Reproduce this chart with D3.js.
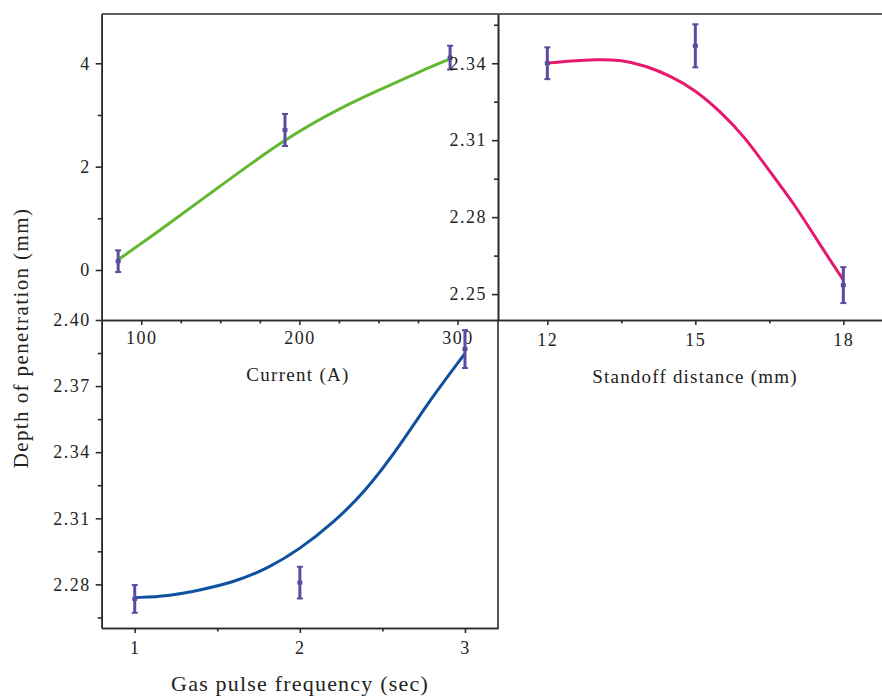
<!DOCTYPE html>
<html>
<head>
<meta charset="utf-8">
<script src="https://cdn.jsdelivr.net/npm/d3@7"></script>
<style>
  body { margin: 0; background: #fff; }
  text { font-family: "Liberation Serif", "Times New Roman", serif; fill: #222; }
  .tick text { font-size: 18px; letter-spacing: 1.5px; }
  .domain, .tick line { stroke: #2b2b2b; stroke-width: 1.6; }
</style>
</head>
<body>
<svg id="chart" width="882" height="698"></svg>
<script>
// ---- current (A) panel ----
var currentX = [85, 112, 140, 191, 226, 251, 276, 295];
var currentFit = [0.19, 0.77, 1.40, 2.55, 3.14, 3.49, 3.84, 4.08];
var currentPts = [85.4, 190.9, 295.3];
var currentMean = [0.17, 2.71, 4.11];
var currentErr = [0.21, 0.31, 0.23];
var currentXTicks = [100, 200, 300];
var currentXMinor = [125, 150, 175, 225, 250, 275];
var currentYTicks = [0, 2, 4];
var currentYMinor = [1, 3];

// ---- standoff distance panel ----
var standoffX = [12, 12.5, 13, 13.5, 14, 14.5, 15, 15.5, 16, 16.5, 17, 17.5, 18];
var standoffFit = [2.3400, 2.3410, 2.3415, 2.3413, 2.3390, 2.3350, 2.3296, 2.3213, 2.3114, 2.2980, 2.2854, 2.2700, 2.2555];
var standoffPts = [12, 15, 18];
var standoffMean = [2.3400, 2.3468, 2.2535];
var standoffErr = [0.0062, 0.0084, 0.0070];
var standoffXTicks = [12, 15, 18];
var standoffXMinor = [13.5, 16.5];
var standoffYTicks = [2.25, 2.28, 2.31, 2.34];
var standoffYMinor = [2.265, 2.295, 2.325, 2.355];

// ---- gas pulse frequency panel ----
var gasX = [1, 1.2, 1.4, 1.6, 1.8, 2.0, 2.2, 2.4, 2.6, 2.8, 3.0];
var gasFit = [2.2740, 2.2746, 2.2775, 2.2810, 2.2870, 2.2960, 2.3077, 2.3225, 2.3423, 2.3650, 2.3848];
var gasPts = [1, 2, 3];
var gasMean = [2.2734, 2.2808, 2.3868];
var gasErr = [0.0063, 0.0072, 0.0086];
var gasXTicks = [1, 2, 3];
var gasXMinor = [1.5, 2.5];
var gasYTicks = [2.28, 2.31, 2.34, 2.37, 2.40];
var gasYMinor = [2.265, 2.295, 2.325, 2.355, 2.385];

var svg = d3.select('#chart');

// panel edges
var L = 101.7, M = 498, R = 882, T = 14, MY = 320, B = 628;

function drawPanel(p) {
  var x = d3.scaleLinear().domain(p.xDomain).range([p.x0, p.x1]);
  var y = d3.scaleLinear().domain(p.yDomain).range([p.y1, p.y0]);
  var g = svg.append('g');

  // minor ticks first, majors with labels on top
  g.append('g').attr('transform', 'translate(0,' + p.y1 + ')')
    .call(d3.axisBottom(x).tickValues(p.xMinor).tickSize(3.5).tickFormat('').tickSizeOuter(0));
  g.append('g').attr('transform', 'translate(0,' + p.y1 + ')')
    .call(d3.axisBottom(x).tickValues(p.xTicks).tickSize(5).tickPadding(p.xPad)
      .tickFormat(d3.format(p.xFmt)).tickSizeOuter(0));
  g.append('g').attr('transform', 'translate(' + p.x0 + ',0)')
    .call(d3.axisLeft(y).tickValues(p.yMinor).tickSize(4).tickFormat('').tickSizeOuter(0));
  g.append('g').attr('transform', 'translate(' + p.x0 + ',0)')
    .call(d3.axisLeft(y).tickValues(p.yTicks).tickSize(6).tickPadding(5)
      .tickFormat(d3.format(p.yFmt)).tickSizeOuter(0));

  // fitted curve
  var line = d3.line()
    .x(function (d) { return x(d[0]); })
    .y(function (d) { return y(d[1]); })
    .curve(d3.curveBasis);
  g.append('path')
    .datum(d3.zip(p.fitX, p.fitY))
    .attr('d', line)
    .attr('fill', 'none')
    .attr('stroke', p.color)
    .attr('stroke-width', 3)
    .attr('stroke-linejoin', 'round');

  // error bars
  var bars = g.selectAll('.eb').data(d3.zip(p.ptX, p.ptMean, p.ptErr)).enter()
    .append('g').attr('class', 'eb');
  var purple = '#5a4ba0';
  bars.append('line')
    .attr('x1', function (d) { return x(d[0]); })
    .attr('x2', function (d) { return x(d[0]); })
    .attr('y1', function (d) { return y(d[1] - d[2]); })
    .attr('y2', function (d) { return y(d[1] + d[2]); })
    .attr('stroke', purple).attr('stroke-width', 3);
  [-1, 1].forEach(function (s) {
    bars.append('line')
      .attr('x1', function (d) { return x(d[0]) - 3; })
      .attr('x2', function (d) { return x(d[0]) + 3; })
      .attr('y1', function (d) { return y(d[1] + s * d[2]); })
      .attr('y2', function (d) { return y(d[1] + s * d[2]); })
      .attr('stroke', purple).attr('stroke-width', 2);
  });
  bars.append('rect')
    .attr('x', function (d) { return x(d[0]) - 2.5; })
    .attr('y', function (d) { return y(d[1]) - 2; })
    .attr('width', 5).attr('height', 4)
    .attr('fill', purple);
}

drawPanel({
  x0: L, x1: M, y0: T, y1: MY,
  xDomain: [75, 325.6], yDomain: [-0.968, 4.954],
  xTicks: currentXTicks, xMinor: currentXMinor, yTicks: currentYTicks, yMinor: currentYMinor,
  xFmt: 'd', yFmt: 'd', xPad: 6,
  fitX: currentX, fitY: currentFit, ptX: currentPts, ptMean: currentMean, ptErr: currentErr,
  color: '#63b832'
});

drawPanel({
  x0: M, x1: R, y0: T, y1: MY,
  xDomain: [11, 18.784], yDomain: [2.2399, 2.3592],
  xTicks: standoffXTicks, xMinor: standoffXMinor, yTicks: standoffYTicks, yMinor: standoffYMinor,
  xFmt: 'd', yFmt: '.2f', xPad: 8,
  fitX: standoffX, fitY: standoffFit, ptX: standoffPts, ptMean: standoffMean, ptErr: standoffErr,
  color: '#e6196e'
});

drawPanel({
  x0: L, x1: M, y0: MY, y1: B,
  xDomain: [0.8, 3.2], yDomain: [2.2602, 2.40],
  xTicks: gasXTicks, xMinor: gasXMinor, yTicks: gasYTicks, yMinor: gasYMinor,
  xFmt: 'd', yFmt: '.2f', xPad: 8,
  fitX: gasX, fitY: gasFit, ptX: gasPts, ptMean: gasMean, ptErr: gasErr,
  color: '#0f50a0'
});

// frame lines: top border and the right side of the lower panel
svg.append('line').attr('x1', L).attr('x2', R).attr('y1', T).attr('y2', T)
  .attr('stroke', '#2b2b2b').attr('stroke-width', 1.6);
svg.append('line').attr('x1', M).attr('x2', M).attr('y1', MY).attr('y2', B)
  .attr('stroke', '#2b2b2b').attr('stroke-width', 1.6);

// axis titles
svg.append('text').attr('x', 298).attr('y', 381).attr('text-anchor', 'middle')
  .style('font-size', '19px').style('letter-spacing', '1.3px').text('Current (A)');
svg.append('text').attr('x', 695).attr('y', 383).attr('text-anchor', 'middle')
  .style('font-size', '19px').style('letter-spacing', '1.2px').text('Standoff distance (mm)');
svg.append('text').attr('x', 300).attr('y', 691).attr('text-anchor', 'middle')
  .style('font-size', '22px').style('letter-spacing', '1.2px').text('Gas pulse frequency (sec)');
svg.append('text').attr('transform', 'translate(28,338) rotate(-90)').attr('text-anchor', 'middle')
  .style('font-size', '21px').style('letter-spacing', '1.4px').text('Depth of penetration (mm)');
</script>
</body>
</html>
